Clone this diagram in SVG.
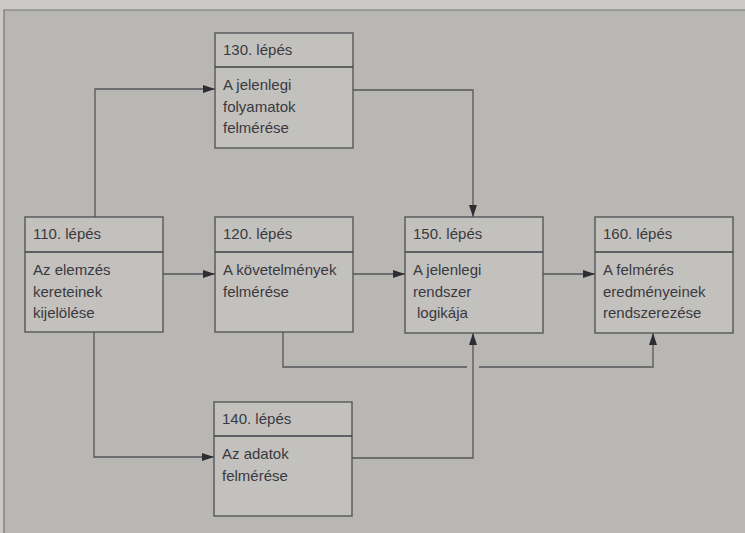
<svg xmlns="http://www.w3.org/2000/svg" width="745" height="533" viewBox="0 0 745 533">
<style>
.box{fill:#c3c1be;stroke:#56555a;stroke-width:1.4}
.div{stroke:#3f3e44;stroke-width:1.6}
.t{font-family:"Liberation Sans",Arial,sans-serif;font-size:15px;fill:#3a3940}
.c{fill:none;stroke:#56555a;stroke-width:1.3}
</style>
<defs>
<marker id="ah" viewBox="0 0 12 8" refX="12" refY="4" markerWidth="12" markerHeight="8" markerUnits="userSpaceOnUse" orient="auto">
<path d="M0,0 L12,4 L0,8 Z" fill="#2e2d33"/>
</marker>
</defs>
<rect x="0" y="0" width="745" height="533" fill="#cbc9c6"/>
<rect x="4" y="10" width="741" height="523" fill="#b9b7b4"/>
<path d="M4,533 V10 H745" fill="none" stroke="#77767a" stroke-width="1.2"/>

<g id="connectors">
<path class="c" d="M95,217 V89 H215" marker-end="url(#ah)"/>
<path class="c" d="M353,90 H473 V217" marker-end="url(#ah)"/>
<path class="c" d="M163,274 H215" marker-end="url(#ah)"/>
<path class="c" d="M353,274 H405" marker-end="url(#ah)"/>
<path class="c" d="M543,274 H595" marker-end="url(#ah)"/>
<path class="c" d="M94,332 V457 H214" marker-end="url(#ah)"/>
<path class="c" d="M352,458 H473 V333" marker-end="url(#ah)"/>
<path class="c" d="M283,332 V367 H467"/>
<path class="c" d="M479,367 H653 V333" marker-end="url(#ah)"/>
</g>

<g id="n110">
<rect class="box" x="25" y="217" width="138" height="115"/>
<line class="div" x1="25" y1="252" x2="163" y2="252"/>
<text class="t" x="33" y="239">110. lépés</text>
<text class="t" x="33" y="275">Az elemzés</text>
<text class="t" x="33" y="296.5">kereteinek</text>
<text class="t" x="33" y="318">kijelölése</text>
</g>

<g id="n120">
<rect class="box" x="215" y="217" width="138" height="115"/>
<line class="div" x1="215" y1="252" x2="353" y2="252"/>
<text class="t" x="223" y="239">120. lépés</text>
<text class="t" x="223" y="275">A követelmények</text>
<text class="t" x="223" y="296.5">felmérése</text>
</g>

<g id="n130">
<rect class="box" x="215" y="33" width="138" height="115"/>
<line class="div" x1="215" y1="67" x2="353" y2="67"/>
<text class="t" x="223" y="55">130. lépés</text>
<text class="t" x="223" y="90">A jelenlegi</text>
<text class="t" x="223" y="111.5">folyamatok</text>
<text class="t" x="223" y="133">felmérése</text>
</g>

<g id="n140">
<rect class="box" x="214" y="402" width="138" height="114"/>
<line class="div" x1="214" y1="436" x2="352" y2="436"/>
<text class="t" x="222" y="424">140. lépés</text>
<text class="t" x="222" y="459">Az adatok</text>
<text class="t" x="222" y="480.5">felmérése</text>
</g>

<g id="n150">
<rect class="box" x="405" y="217" width="138" height="116"/>
<line class="div" x1="405" y1="252" x2="543" y2="252"/>
<text class="t" x="413" y="239">150. lépés</text>
<text class="t" x="413" y="275">A jelenlegi</text>
<text class="t" x="413" y="296.5">rendszer</text>
<text class="t" x="417" y="318">logikája</text>
</g>

<g id="n160">
<rect class="box" x="595" y="217" width="138" height="116"/>
<line class="div" x1="595" y1="252" x2="733" y2="252"/>
<text class="t" x="603" y="239">160. lépés</text>
<text class="t" x="603" y="275">A felmérés</text>
<text class="t" x="603" y="296.5">eredményeinek</text>
<text class="t" x="603" y="318">rendszerezése</text>
</g>
</svg>
